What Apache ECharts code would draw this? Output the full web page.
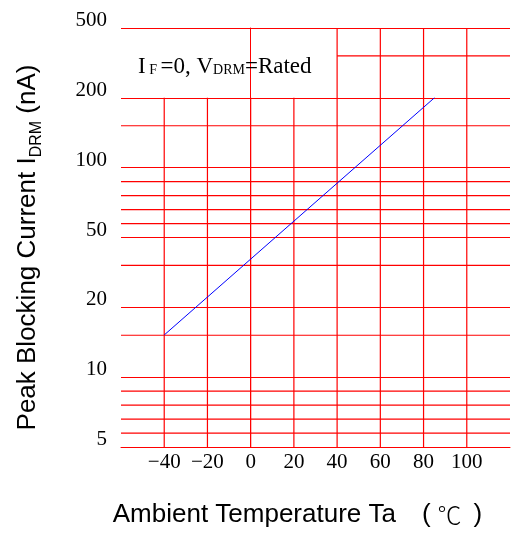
<!DOCTYPE html>
<html>
<head>
<meta charset="utf-8">
<script src="https://cdn.jsdelivr.net/npm/echarts@6/dist/echarts.min.js"></script>
<style>html,body{margin:0;padding:0;background:#fff}#c{width:513px;height:533px}</style>
</head>
<body>
<div id="c"></div>
<script>
// Y tick labels (the chart draws them evenly spaced)
var yTickLabels = ['5', '10', '20', '50', '100', '200', '500'];
var yTickValues = [5, 10, 20, 50, 100, 200, 500];
// X ticks
var xTickValues = [-40, -20, 0, 20, 40, 60, 80, 100];
// Data: temperature (°C) and peak blocking current (nA)
var temps = [-40, 85];
var currents = [15.2, 200];
// Grid decoration (in tick-index units of the y axis)
var minorGridIdx = [0.2, 0.4, 0.6, 0.8, 1.6, 2.6, 3.2, 3.4, 3.6, 3.8, 4.6];
var partialGridIdx = 5.6;      // only from x = 40 to the right
var vertShort = [-40, -20, 0, 20];   // stop under the annotation box
var vertTall = [40, 60, 80, 100];

function toIdx(v) {
  for (var i = 0; i < yTickValues.length - 1; i++) {
    var a = yTickValues[i], b = yTickValues[i + 1];
    if (v <= b || i === yTickValues.length - 2) {
      return i + Math.log(v / a) / Math.log(b / a);
    }
  }
}

var lineData = temps.map(function (t, i) { return [t, toIdx(currents[i])]; });

var red = '#ff0000';
var gridSeries = [];
function seg(x1, y1, x2, y2) {
  gridSeries.push({
    type: 'line', data: [[x1, y1], [x2, y2]], symbol: 'none', silent: true,
    lineStyle: { color: red, width: 1.2, opacity: 1 }, z: 1,
    emphasis: { disabled: true }, tooltip: { show: false }
  });
}
vertShort.forEach(function (x) { seg(x, 0, x, 5); });
vertTall.forEach(function (x) { seg(x, 0, x, 6); });
minorGridIdx.forEach(function (y) { seg(-60, y, 120, y); });
seg(40, partialGridIdx, 120, partialGridIdx);

var chart = echarts.init(document.getElementById('c'), null, { renderer: 'canvas' });
chart.setOption({
  animation: false,
  backgroundColor: '#fff',
  grid: { left: 121, top: 28, width: 393, bottom: 84 },
  title: {
    text: '{a|I}{s| F }{a|=0, V}{s|DRM}{a|=Rated}',
    left: 138, top: 55, padding: 0,
    textStyle: {
      fontWeight: 'normal',
      rich: {
        a: { fontFamily: 'Liberation Serif', fontWeight: 'normal', fontSize: 23, color: '#000', verticalAlign: 'bottom' },
        s: { fontFamily: 'Liberation Serif', fontWeight: 'normal', fontSize: 14, color: '#000', verticalAlign: 'bottom', padding: [0, 0, 1, 0] }
      }
    }
  },
  xAxis: {
    type: 'value', min: -60, max: 120, interval: 20,
    axisLine: { show: true, lineStyle: { color: red, width: 1 } },
    axisTick: { show: false },
    splitLine: { show: false },
    axisLabel: {
      margin: 5,
      fontFamily: 'Liberation Serif', fontSize: 21, color: '#000',
      formatter: function (v) {
        if (xTickValues.indexOf(v) < 0) return '';
        return v < 0 ? '\u2212' + Math.abs(v) : String(v);
      }
    },
    name: '{a|Ambient Temperature Ta}{p|(}{c|\u2103}{q|)}',
    nameLocation: 'middle', nameGap: 55,
    nameTextStyle: {
      padding: [0, 36, 0, 0],
      rich: {
        a: { fontFamily: 'Liberation Sans', fontSize: 26, color: '#000' },
        p: { fontFamily: 'Liberation Sans', fontSize: 26, color: '#000', padding: [0, 0, 0, 26] },
        c: { fontFamily: 'Noto Sans CJK JP', fontWeight: 300, fontSize: 24, color: '#000', padding: [0, 0, 0, 7] },
        q: { fontFamily: 'Liberation Sans', fontSize: 26, color: '#000', padding: [0, 0, 0, 12] }
      }
    }
  },
  yAxis: {
    type: 'value', min: 0, max: 6, interval: 1,
    axisLine: { show: true, lineStyle: { color: red, width: 1 } },
    axisTick: { show: false },
    splitLine: { show: true, lineStyle: { color: red, width: 1 } },
    axisLabel: {
      margin: 14,
      fontFamily: 'Liberation Serif', fontSize: 21, color: '#000',
      verticalAlign: 'bottom', lineHeight: 15,
      formatter: function (v) { return yTickLabels[Math.round(v)] || ''; }
    },
    name: '{a|Peak Blocking Current I}{s|DRM}{a| (nA)}',
    nameLocation: 'middle', nameGap: 80,
    nameTextStyle: {
      padding: [0, 20, 0, 0],
      rich: {
        a: { fontFamily: 'Liberation Sans', fontSize: 26, color: '#000', verticalAlign: 'bottom' },
        s: { fontFamily: 'Liberation Sans', fontSize: 16, color: '#000', verticalAlign: 'bottom', padding: [0, 0, -4, 0] }
      }
    }
  },
  series: gridSeries.concat([{
    type: 'line',
    data: lineData,
    symbol: 'none',
    lineStyle: { color: '#0000ff', width: 1 },
    z: 5
  }])
});
</script>
</body>
</html>
